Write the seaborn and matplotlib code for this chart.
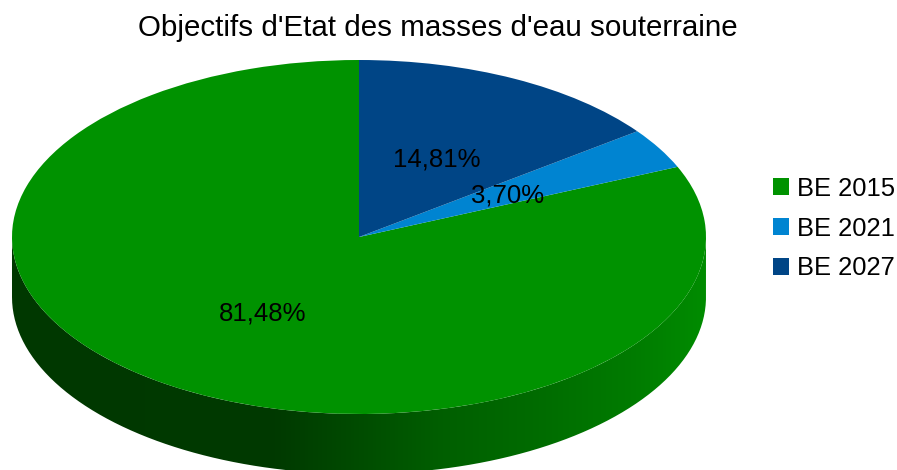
import numpy as np
import matplotlib
matplotlib.use("Agg")
import matplotlib.pyplot as plt
from matplotlib.colors import LinearSegmentedColormap
from matplotlib.patches import PathPatch, Patch
from matplotlib.path import Path
import seaborn as sns

categories = ["BE 2015", "BE 2021", "BE 2027"]
values = [81.48, 3.70, 14.81]
colors = ["#009200", "#0084D1", "#004586"]
title = "Objectifs d'Etat des masses d'eau souterraine"

W, H = 897, 470
cx, cy, rx, ry, depth = 359, 237, 347, 177, 60

sns.set_theme(style="white")
plt.rcParams["font.family"] = ["Liberation Sans", "DejaVu Sans"]

fig = plt.figure(figsize=(W / 100, H / 100), dpi=100, facecolor="white")
ax = fig.add_axes([0, 0, 1, 1])
wedges, _ = ax.pie(values, colors=colors, startangle=90, counterclock=True,
                   radius=1, wedgeprops={"linewidth": 0})
ax.set_aspect("auto")

# side wall of the disc, with its left-to-right shading
d = depth / ry
t = np.linspace(np.pi, 2 * np.pi, 200)
wx, wy = np.cos(t), np.sin(t)
verts = np.vstack([np.c_[wx, wy], np.c_[wx[::-1], wy[::-1] - d], [[wx[0], wy[0]]]])
wall = PathPatch(Path(verts), facecolor="none", edgecolor="none")
ax.add_patch(wall)
shade = LinearSegmentedColormap.from_list("wall", [
    (0.00, "#003800"), (0.38, "#003A00"), (0.50, "#004C00"), (0.62, "#005F00"),
    (0.76, "#006C00"), (0.90, "#007C00"), (1.00, "#008C00")])
im = ax.imshow(np.linspace(0, 1, 512)[None, :], cmap=shade, aspect="auto",
               extent=(-1, 1, -1 - d, 0), zorder=0.5, interpolation="bilinear")
im.set_clip_path(wall)
ax.set_xlim((0 - cx) / rx, (W - cx) / rx)
ax.set_ylim((cy - H) / ry, (cy - 0) / ry)
for w in wedges:
    w.set_zorder(2)

label_pos = [(263, 313), (508, 196), (437, 160)]
for v, (px, py) in zip(values, label_pos):
    ax.text((px - cx) / rx, (cy - py) / ry, f"{v:.2f}%".replace(".", ","),
            ha="center", va="center", fontsize=18.5, color="black", zorder=3)

fig.text(438 / W, 1 - 28 / H, title, ha="center", va="center",
         fontsize=21.25, color="black")

handles = [Patch(facecolor=c, edgecolor="none") for c in colors]
fig.legend(handles, categories, loc="center left", bbox_to_anchor=(773 / W, 1 - 228.5 / H),
           frameon=False, fontsize=18.4, borderpad=0, borderaxespad=0,
           handlelength=0.625, handleheight=0.625, handletextpad=0.31, labelspacing=0.62,
           labelcolor="black")

fig.savefig("out.png", dpi=100, facecolor="white")
